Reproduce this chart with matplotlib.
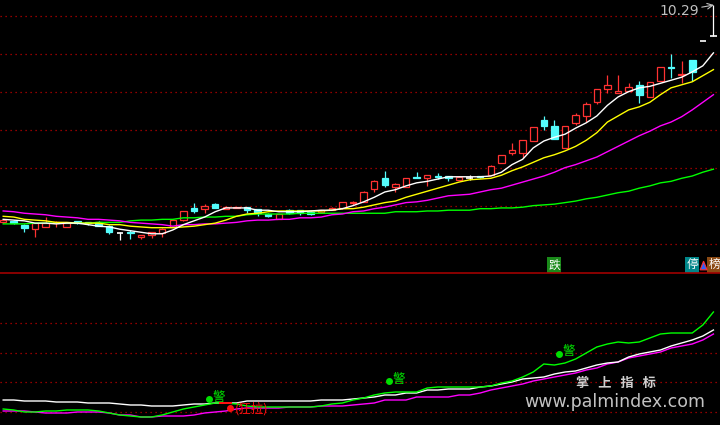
import numpy as np
import matplotlib.pyplot as plt
from matplotlib.patches import Polygon

plt.rcParams['font.family'] = ['Noto Sans CJK SC', 'DejaVu Sans']

# daily K-line data (price)
opens = [7.43, 7.45, 7.40, 7.34, 7.37, 7.42, 7.37, 7.45, 7.43, 7.43,
         7.38, 7.29, 7.30, 7.24, 7.26, 7.29, 7.37, 7.46, 7.62, 7.61,
         7.67, 7.61, 7.62, 7.63, 7.61, 7.54, 7.47, 7.59, 7.59, 7.57,
         7.57, 7.59, 7.62, 7.69, 7.70, 7.87, 8.01, 7.90, 7.90, 8.03,
         8.01, 8.04, 8.04, 7.99, 8.01, 8.04, 8.05, 8.21, 8.34, 8.34,
         8.50, 8.78, 8.70, 8.41, 8.74, 8.83, 9.01, 9.19, 9.13, 9.16,
         9.24, 9.08, 9.29, 9.47, 9.37, 9.57, 9.82, 9.88]
highs = [7.47, 7.46, 7.41, 7.42, 7.50, 7.45, 7.43, 7.45, 7.43, 7.45,
         7.40, 7.30, 7.33, 7.26, 7.30, 7.36, 7.47, 7.58, 7.68, 7.67,
         7.69, 7.65, 7.63, 7.63, 7.61, 7.55, 7.54, 7.61, 7.59, 7.58,
         7.59, 7.63, 7.70, 7.71, 7.84, 7.99, 8.11, 7.95, 8.01, 8.09,
         8.05, 8.08, 8.04, 8.04, 8.05, 8.04, 8.19, 8.32, 8.47, 8.51,
         8.69, 8.83, 8.78, 8.70, 8.87, 9.01, 9.19, 9.37, 9.37, 9.26,
         9.29, 9.28, 9.47, 9.65, 9.55, 9.57, 9.82, 10.29]
lows = [7.42, 7.41, 7.30, 7.24, 7.37, 7.37, 7.37, 7.41, 7.40, 7.38,
        7.28, 7.20, 7.21, 7.21, 7.22, 7.24, 7.37, 7.45, 7.55, 7.55,
        7.62, 7.61, 7.62, 7.55, 7.51, 7.50, 7.47, 7.54, 7.53, 7.53,
        7.55, 7.59, 7.61, 7.66, 7.70, 7.83, 7.90, 7.83, 7.90, 8.02,
        7.91, 8.00, 7.97, 7.99, 7.99, 8.01, 8.05, 8.21, 8.32, 8.28,
        8.50, 8.65, 8.53, 8.41, 8.71, 8.75, 8.99, 9.13, 9.13, 9.16,
        9.00, 9.08, 9.29, 9.33, 9.26, 9.29, 9.82, 9.88]
closes = [7.46, 7.42, 7.36, 7.42, 7.42, 7.43, 7.42, 7.42, 7.42, 7.38,
          7.30, 7.29, 7.29, 7.26, 7.30, 7.34, 7.46, 7.58, 7.58, 7.65,
          7.62, 7.63, 7.63, 7.59, 7.55, 7.51, 7.54, 7.55, 7.55, 7.54,
          7.59, 7.62, 7.70, 7.70, 7.83, 7.97, 7.92, 7.93, 8.01, 8.02,
          8.05, 8.03, 8.01, 8.03, 8.01, 8.03, 8.17, 8.32, 8.38, 8.51,
          8.69, 8.70, 8.53, 8.70, 8.84, 8.99, 9.19, 9.24, 9.16, 9.21,
          9.11, 9.28, 9.47, 9.46, 9.38, 9.41, 9.82, 9.88]

# moving averages
ma_white = [7.47, 7.46, 7.45, 7.42, 7.42, 7.41, 7.42, 7.42, 7.40, 7.38,
            7.37, 7.34, 7.32, 7.30, 7.28, 7.28, 7.33, 7.40, 7.45, 7.50,
            7.57, 7.62, 7.62, 7.62, 7.59, 7.59, 7.57, 7.57, 7.57, 7.58,
            7.59, 7.59, 7.61, 7.65, 7.70, 7.76, 7.83, 7.86, 7.91, 7.95,
            7.97, 8.00, 8.03, 8.03, 8.03, 8.03, 8.04, 8.09, 8.19, 8.26,
            8.41, 8.50, 8.55, 8.59, 8.67, 8.74, 8.83, 8.97, 9.08, 9.15,
            9.20, 9.22, 9.26, 9.30, 9.34, 9.41, 9.49, 9.66]
ma_yellow = [7.51, 7.50, 7.47, 7.46, 7.45, 7.43, 7.43, 7.42, 7.42, 7.42,
             7.40, 7.40, 7.38, 7.37, 7.36, 7.36, 7.36, 7.37, 7.38, 7.40,
             7.42, 7.46, 7.51, 7.54, 7.55, 7.57, 7.58, 7.58, 7.58, 7.58,
             7.58, 7.59, 7.61, 7.61, 7.63, 7.66, 7.69, 7.71, 7.76, 7.80,
             7.84, 7.88, 7.92, 7.96, 7.99, 8.00, 8.01, 8.05, 8.11, 8.16,
             8.22, 8.28, 8.32, 8.37, 8.43, 8.51, 8.61, 8.75, 8.83, 8.91,
             8.95, 9.01, 9.11, 9.20, 9.24, 9.28, 9.36, 9.44]
ma_magenta = [7.58, 7.57, 7.55, 7.54, 7.53, 7.51, 7.50, 7.49, 7.47, 7.47,
              7.46, 7.45, 7.43, 7.42, 7.41, 7.40, 7.38, 7.40, 7.40, 7.41,
              7.41, 7.42, 7.43, 7.45, 7.46, 7.46, 7.47, 7.47, 7.49, 7.49,
              7.50, 7.53, 7.54, 7.57, 7.58, 7.61, 7.63, 7.66, 7.69, 7.70,
              7.72, 7.75, 7.78, 7.79, 7.80, 7.83, 7.86, 7.88, 7.92, 7.96,
              8.00, 8.04, 8.09, 8.15, 8.19, 8.24, 8.29, 8.36, 8.43, 8.50,
              8.57, 8.63, 8.70, 8.75, 8.82, 8.91, 9.01, 9.11]
ma_green = [7.41, 7.41, 7.41, 7.42, 7.42, 7.42, 7.42, 7.42, 7.42, 7.43,
            7.43, 7.43, 7.45, 7.46, 7.46, 7.47, 7.47, 7.49, 7.49, 7.50,
            7.50, 7.51, 7.51, 7.53, 7.54, 7.54, 7.54, 7.54, 7.55, 7.55,
            7.55, 7.55, 7.55, 7.55, 7.55, 7.55, 7.55, 7.57, 7.57, 7.57,
            7.58, 7.58, 7.59, 7.59, 7.59, 7.61, 7.61, 7.62, 7.62, 7.63,
            7.65, 7.66, 7.67, 7.69, 7.71, 7.74, 7.76, 7.79, 7.82, 7.84,
            7.88, 7.91, 7.95, 7.97, 8.01, 8.04, 8.09, 8.13]

# lower indicator panel
ind_white = [12, 12, 11, 11, 11, 10, 10, 10, 9, 9,
             9, 8, 7, 7, 6, 6, 6, 7, 8, 8,
             9, 9, 9, 11, 11, 11, 11, 11, 11, 11,
             12, 12, 12, 13, 14, 15, 17, 17, 19, 19,
             22, 22, 23, 23, 23, 25, 26, 28, 30, 33,
             34, 35, 38, 40, 41, 44, 47, 49, 50, 55,
             58, 60, 62, 66, 69, 72, 76, 82]
ind_green = [3, 2, 0, 0, 1, 1, 2, 2, 2, 1,
             -1, -3, -4, -5, -5, -3, 0, 3, 5, 7,
             9, 9, 8, 6, 5, 5, 5, 5, 5, 5,
             6, 8, 9, 12, 14, 17, 19, 20, 20, 20,
             24, 25, 25, 25, 25, 25, 26, 29, 31, 35,
             40, 48, 47, 49, 53, 59, 65, 68, 70, 69,
             70, 74, 78, 79, 79, 79, 87, 100]
ind_magenta = [1, 1, 1, 0, -1, -1, -1, 0, 0, 0,
               -1, -3, -3, -5, -5, -4, -4, -4, -3, -1,
               0, 1, 3, 4, 4, 4, 4, 5, 5, 5,
               6, 6, 6, 7, 8, 9, 12, 12, 12, 15,
               15, 15, 15, 17, 17, 19, 22, 24, 26, 28,
               31, 33, 35, 37, 39, 42, 44, 48, 50, 54,
               56, 58, 60, 64, 66, 68, 72, 78]
warn_idx = [19, 36, 52]
warn_val = [13, 31, 58]

price_grid = [7.15, 7.65, 8.15, 8.65, 9.15, 9.65, 10.15]
ind_grid = [0, 30, 59, 89]

RED = '#ff3232'
CYAN = '#54fcfc'
GRID = '#c00000'

fig = plt.figure(figsize=(7.2, 4.25), dpi=100, facecolor='black')
ax = fig.add_axes([0, 153 / 425, 1, 272 / 425], facecolor='black')
ax2 = fig.add_axes([0, 0, 1, 152 / 425], facecolor='black')

x = np.arange(len(opens))
for a in (ax, ax2):
    a.set_xlim(-0.3, 67.62)
    a.set_xticks([])
    a.set_yticks([])
    for s in a.spines.values():
        s.set_visible(False)
ax.set_ylim(6.777, 10.356)
ax2.set_ylim(-13, 139)
ax2.spines['top'].set_visible(True)
ax2.spines['top'].set_color('#a00000')
ax2.spines['top'].set_linewidth(1.2)

for g in price_grid:
    ax.axhline(g, color=GRID, lw=0.9, ls=(0, (1, 3)), zorder=0)
for g in ind_grid:
    ax2.axhline(g, color=GRID, lw=0.9, ls=(0, (1, 3)), zorder=0)

# candles
w = 0.62
for i in x:
    o, h, l, c = opens[i], highs[i], lows[i], closes[i]
    if c > o:
        ax.vlines(i, l, h, color=RED, lw=0.9, zorder=2)
        ax.bar(i, c - o, bottom=o, width=w, facecolor='black',
               edgecolor=RED, linewidth=0.9, zorder=3)
    elif c < o:
        ax.vlines(i, l, h, color=CYAN, lw=0.9, zorder=2)
        ax.bar(i, o - c, bottom=c, width=w, facecolor=CYAN,
               edgecolor=CYAN, linewidth=0.9, zorder=3)
    else:
        ax.vlines(i, l, h, color='white', lw=0.9, zorder=2)
        ax.hlines(o, i - w / 2, i + w / 2, color='white', lw=1.2, zorder=3)

ax.plot(x, ma_green, color='#00ff00', lw=1, zorder=4)
ax.plot(x, ma_magenta, color='#ff00ff', lw=1, zorder=4)
ax.plot(x, ma_yellow, color='#ffff00', lw=1, zorder=4)
ax.plot(x, ma_white, color='white', lw=1, zorder=4)

# highest price label
ax.annotate('10.29', xy=(67.05, max(highs)), xytext=(61.9, 10.21),
            color='#c0c0c0', fontsize=10, va='center', ha='left',
            family='DejaVu Sans',
            arrowprops=dict(arrowstyle='->', color='#c0c0c0', lw=0.8,
                            shrinkA=0, shrinkB=0))

# flag boxes at bottom of price panel
tr = ax.get_xaxis_transform()
ax.text(52, 0.026, '跌', transform=tr, color='white', fontsize=8.5,
        ha='center', va='center',
        bbox=dict(boxstyle='square,pad=0.1', fc='#1a8a1a', ec='none'))
ax.text(65, 0.026, '停', transform=tr, color='white', fontsize=8.5,
        ha='center', va='center',
        bbox=dict(boxstyle='square,pad=0.1', fc='#00878a', ec='none'))
ax.text(67.1, 0.026, '榜', transform=tr, color='white', fontsize=8.5,
        ha='center', va='center',
        bbox=dict(boxstyle='square,pad=0.1', fc='#8b4a14', ec='none'))
ax.add_patch(Polygon([[65.75, 0.008], [66.4, 0.008], [66.07, 0.04]],
                     closed=True, transform=tr, fc='#3060ff', ec='#ff3030',
                     lw=0.8, zorder=5))

# lower indicator
ax2.plot(x, ind_magenta, color='#ff00ff', lw=1, zorder=3)
ax2.plot(x, ind_white, color='white', lw=1, zorder=3)
ax2.plot(x, ind_green, color='#00ff00', lw=1, zorder=4)

for i, v in zip(warn_idx, warn_val):
    ax2.plot(i + 0.4, v, 'o', color='#00e000', ms=4, zorder=6)
    ax2.text(i + 0.75, v + 2, '警', color='#00e000', fontsize=9,
             ha='left', va='center', zorder=6)

ax2.bar(21.0, 2, bottom=8, width=1.2, color='#ff1010', zorder=6)
ax2.plot(21.4, 4, 'o', color='#ff1010', ms=4, zorder=6)
ax2.text(21.9, 3, '(狂拉)', color='#ff1010', fontsize=9, ha='left',
         va='center', zorder=6)

# watermark
fig.text(0.856, 0.099, '掌   上   指   标', color='#e8e8e8', fontsize=9.5,
         ha='center', va='center', fontweight='bold', alpha=0.9)
fig.text(0.854, 0.054, 'www.palmindex.com', color='#d8d8d8', fontsize=12.5,
         ha='center', va='center', family='DejaVu Sans', alpha=0.9)

fig.savefig('out.png', dpi=100, facecolor='black')
